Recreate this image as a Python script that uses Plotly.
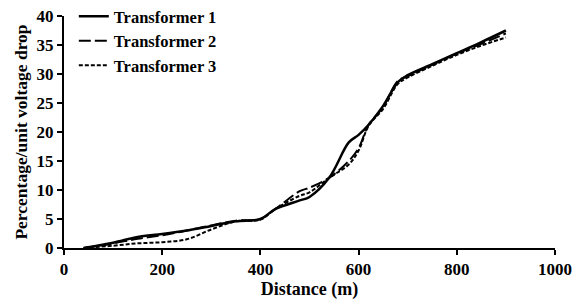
import plotly.graph_objects as go

distance = [40, 100, 150, 200, 250, 300, 350, 400, 430, 480, 500, 540, 580, 600, 620, 650, 680, 700, 750, 800, 850, 900]
transformer1 = [0, 0.9, 1.9, 2.4, 3.0, 3.8, 4.6, 5.0, 6.7, 8.2, 8.8, 12.1, 18.2, 19.5, 21.2, 24.5, 28.6, 29.8, 31.7, 33.6, 35.5, 37.5]
transformer2 = [0, 0.8, 1.6, 2.2, 3.0, 3.9, 4.7, 5.0, 6.7, 9.8, 10.4, 12.1, 15.0, 17.2, 21.2, 24.3, 28.8, 29.6, 31.6, 33.5, 35.2, 37.0]
transformer3 = [0, 0.4, 0.8, 1.0, 1.5, 3.2, 4.6, 4.9, 6.7, 9.0, 9.6, 12.1, 14.4, 16.8, 21.0, 24.0, 28.3, 29.4, 31.4, 33.3, 34.9, 36.3]
x_ticks = [0, 200, 400, 600, 800, 1000]
y_ticks = [0, 5, 10, 15, 20, 25, 30, 35, 40]

font = "Liberation Serif"
tick_font = dict(family=font, size=17, color="black", weight="bold")
legend_font = dict(family=font, size=16.5, color="black", weight="bold")
title_font = dict(family=font, size=17.5, color="black", weight="bold")

fig = go.Figure()
fig.add_trace(go.Scatter(x=distance, y=transformer1, name="Transformer 1", mode="lines",
                         line=dict(color="black", width=2.5, shape="spline")))
fig.add_trace(go.Scatter(x=distance, y=transformer2, name="Transformer 2", mode="lines",
                         line=dict(color="black", width=2, dash="12px,4px", shape="spline")))
fig.add_trace(go.Scatter(x=distance, y=transformer3, name="Transformer 3", mode="lines",
                         line=dict(color="black", width=2, dash="4px,2px", shape="spline")))

axis_common = dict(showline=True, linecolor="black", linewidth=2, ticks="outside",
                   tickwidth=2, ticklen=5, tickcolor="black", showgrid=False, zeroline=False,
                   automargin=False, ticklabeloverflow="allow", tickfont=tick_font)

fig.update_layout(
    width=581, height=304,
    margin=dict(l=56, r=34, t=8, b=64, autoexpand=False),
    paper_bgcolor="white", plot_bgcolor="white",
    font=dict(family=font, color="black"),
    showlegend=True,
    legend=dict(x=0.02, y=1.073, xanchor="left", yanchor="top", bgcolor="rgba(0,0,0,0)",
                font=legend_font, tracegroupgap=0, itemwidth=30),
    xaxis=dict(range=[0, 1000], tickvals=x_ticks, ticktext=[str(v) for v in x_ticks],
               title=dict(text="Distance (m)", font=dict(family=font, size=18, color="black", weight="bold"), standoff=2),
               **axis_common),
    yaxis=dict(range=[0, 40], tickvals=y_ticks, ticktext=[str(v) for v in y_ticks],
               title=dict(text="Percentage/unit voltage drop", font=title_font, standoff=4),
               **axis_common),
)

fig.write_html("out.html")
